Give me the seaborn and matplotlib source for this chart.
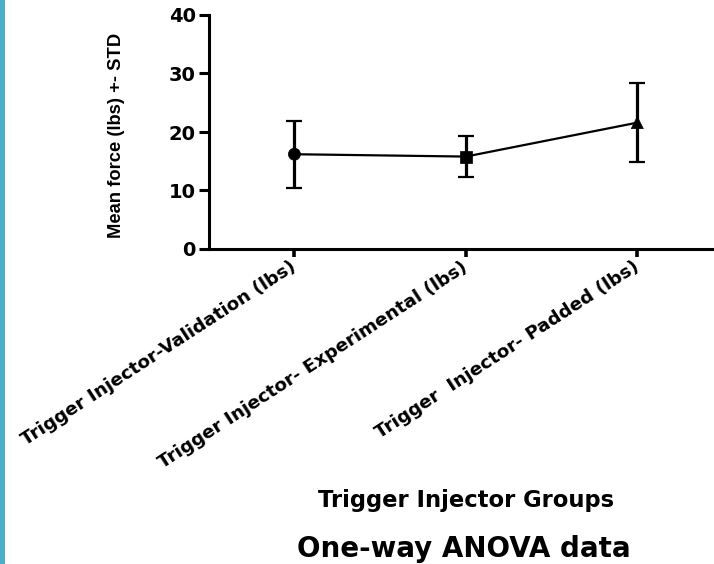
import matplotlib
matplotlib.use("Agg")
import matplotlib.pyplot as plt
from matplotlib.patches import Rectangle
import seaborn as sns
import pandas as pd

groups = ["Trigger Injector-Validation (lbs)",
          "Trigger Injector- Experimental (lbs)",
          "Trigger  Injector- Padded (lbs)"]
means = [16.2, 15.8, 21.6]
stds = [5.75, 3.5, 6.7]
marker_shapes = ["o", "s", "^"]
yticks = [0, 10, 20, 30, 40]

sns.set_theme(style="ticks")
plt.rcParams['font.family'] = ['DejaVu Sans']
plt.rcParams['text.color'] = 'black'
plt.rcParams['axes.labelcolor'] = 'black'
plt.rcParams['xtick.color'] = 'black'
plt.rcParams['ytick.color'] = 'black'

W, H = 714, 564
fig = plt.figure(figsize=(W / 100, H / 100), dpi=100)
fig.patch.set_facecolor("white")

# axes placement (pixels from reference)
left, right, top, bottom = 208.7, 723.0, 15.0, 249.0
ax = fig.add_axes([left / W, 1 - bottom / H, (right - left) / W, (bottom - top) / H])
ax.set_facecolor("white")

df = pd.DataFrame({"pos": list(range(len(groups))), "mean": means,
                   "std": stds, "group": groups})

ax.errorbar(df["pos"], df["mean"], yerr=df["std"], fmt="none", ecolor="black",
            elinewidth=2.3, capsize=5.8, capthick=1.6, zorder=2)
sns.lineplot(data=df, x="pos", y="mean", color="black", linewidth=1.6,
             ax=ax, zorder=3, legend=False)
sns.scatterplot(data=df, x="pos", y="mean", style="group",
                markers=dict(zip(groups, marker_shapes)), color="black",
                s=75, edgecolor="black", linewidth=0.5, ax=ax, zorder=4, legend=False)

ax.set_xlim(-0.5, 2.5)
ax.set_ylim(0, 40)
ax.set_yticks(yticks)
ax.set_yticklabels([str(v) for v in yticks], fontsize=14, fontweight="bold",
                   color="black")
ax.set_xticks(df["pos"])
ax.set_xticklabels(groups, rotation=33, ha="right", va="center",
                   rotation_mode="anchor", fontsize=13.2, fontweight="bold",
                   color="black")

for s in ["top", "right"]:
    ax.spines[s].set_visible(False)
for s in ["left", "bottom"]:
    ax.spines[s].set_linewidth(2.2)
    ax.spines[s].set_color("black")
ax.tick_params(axis="y", length=7.2, width=2.2, pad=2, colors="black")
ax.tick_params(axis="x", length=5.8, width=2.6, pad=6, colors="black")

ax.set_ylabel("Mean force (lbs) +- STD", fontsize=13.2, fontweight="bold",
              family="Liberation Sans", va="center", color="black")
ax.yaxis.set_label_coords((117 - left) / (right - left), (bottom - 135) / (bottom - top))

ax.set_xlabel("Trigger Injector Groups", fontsize=16.3, fontweight="bold",
              va="center", color="black")
ax.xaxis.set_label_coords((466 - left) / (right - left), (bottom - 501) / (bottom - top))

fig.text(464 / W, 1 - 549 / H, "One-way ANOVA data", fontsize=20,
         fontweight="bold", ha="center", va="center", color="black")

fig.patches.append(Rectangle((0, 0), 4.5 / W, 1, transform=fig.transFigure,
                             facecolor="#4BAFCA", edgecolor="none", zorder=10))

fig.savefig("out.png", dpi=100, facecolor="white")
